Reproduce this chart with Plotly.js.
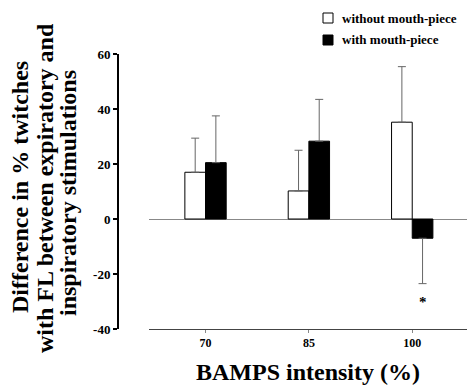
<!DOCTYPE html>
<html>
<head>
<meta charset="utf-8">
<script src="https://cdn.plot.ly/plotly-3.0.1.min.js"></script>
<style>html,body{margin:0;padding:0;background:#fff;}#chart{width:468px;height:385px;}</style>
</head>
<body>
<div id="chart"></div>
<script>
// Data
var categories = ['70', '85', '100'];
var withoutMP = [17, 10.2, 35.2];
var withoutMPErrUp = [12.4, 14.8, 20.2];
var withoutMPErrDown = [0, 0, 0];
var withMP = [20.5, 28.3, -7.0];
var withMPErrUp = [17, 15.2, 0];
var withMPErrDown = [0, 0, 16.5];
var yTicks = [-40, -20, 0, 20, 40, 60];
var seriesNames = ['without mouth-piece', 'with mouth-piece'];

var FONT = 'Liberation Serif';
var ML = 117, MR = 1, MT = 54, MB = 56, W = 468, H = 385;
var PW = W - ML - MR, PH = H - MT - MB;
function px(p) { return (p - ML) / PW; }
function py(p) { return (H - MB - p) / PH; }

var errStyle = {color: '#666', thickness: 1, width: 4};

var traces = [
  {
    type: 'bar', name: seriesNames[0], x: categories, y: withoutMP,
    marker: {color: '#ffffff', line: {color: '#000', width: 1}},
    error_y: Object.assign({type: 'data', symmetric: false, array: withoutMPErrUp, arrayminus: withoutMPErrDown}, errStyle)
  },
  {
    type: 'bar', name: seriesNames[1], x: categories, y: withMP,
    marker: {color: '#000000', line: {color: '#000', width: 1}},
    error_y: Object.assign({type: 'data', symmetric: false, array: withMPErrUp, arrayminus: withMPErrDown}, errStyle)
  }
];

var titleLines = ['Difference in % twitches', 'with FL between expiratory and', 'inspiratory stimulations'];
var titleX = [20, 45, 68];
var titleY = [187, 188, 193];

var annotations = [];
titleLines.forEach(function (t, i) {
  annotations.push({
    text: t, textangle: -90, showarrow: false,
    xref: 'paper', yref: 'paper', x: px(titleX[i]), y: py(titleY[i]),
    xanchor: 'center', yanchor: 'middle',
    font: {family: FONT, size: 24, color: '#000', weight: 'bold'}
  });
});
// legend text
annotations.push({text: seriesNames[0], showarrow: false, xref: 'paper', yref: 'paper',
  x: px(340), y: py(18), xanchor: 'left', yanchor: 'middle',
  font: {family: FONT, size: 13, color: '#000', weight: 'bold'}});
annotations.push({text: seriesNames[1], showarrow: false, xref: 'paper', yref: 'paper',
  x: px(340), y: py(40), xanchor: 'left', yanchor: 'middle',
  font: {family: FONT, size: 13, color: '#000', weight: 'bold'}});
// significance marker
annotations.push({text: '*', showarrow: false, xref: 'x', yref: 'y',
  x: 2.1, y: -30, xanchor: 'center', yanchor: 'middle',
  font: {family: FONT, size: 15, color: '#000', weight: 'bold'}});

var shapes = [
  {type: 'rect', xref: 'paper', yref: 'paper', x0: px(323), x1: px(333), y0: py(23), y1: py(13),
   fillcolor: '#fff', line: {color: '#000', width: 1}},
  {type: 'rect', xref: 'paper', yref: 'paper', x0: px(323), x1: px(333), y0: py(45), y1: py(35),
   fillcolor: '#000', line: {color: '#000', width: 1}}
];

var layout = {
  width: W, height: H,
  margin: {l: ML, r: MR, t: MT, b: MB, pad: 0},
  paper_bgcolor: '#fff', plot_bgcolor: '#fff',
  showlegend: false,
  barmode: 'group', bargap: 0.6, bargroupgap: 0,
  font: {family: FONT, color: '#000'},
  xaxis: {
    type: 'category', domain: [px(149), 1], range: [-0.547, 2.53],
    showline: true, linecolor: '#444', linewidth: 1,
    ticks: 'outside', ticklen: 3, tickcolor: '#888', tickwidth: 1,
    showgrid: false, zeroline: false,
    tickfont: {family: FONT, size: 12, color: '#000', weight: 'bold'},
    title: {text: 'BAMPS intensity (%)', standoff: 14,
      font: {family: FONT, size: 24, color: '#000', weight: 'bold'}}
  },
  yaxis: {
    range: [-40, 60], tickvals: yTicks, ticktext: yTicks.map(String),
    anchor: 'free', position: 0,
    showline: true, linecolor: '#000', linewidth: 1.5,
    ticks: 'outside', ticklen: 4, tickcolor: '#000', tickwidth: 1.5,
    showgrid: false,
    zeroline: true, zerolinecolor: '#888', zerolinewidth: 1,
    tickfont: {family: FONT, size: 13, color: '#000', weight: 'bold'}
  },
  annotations: annotations,
  shapes: shapes
};

Plotly.newPlot('chart', traces, layout, {displayModeBar: false, staticPlot: true});
</script>
</body>
</html>
